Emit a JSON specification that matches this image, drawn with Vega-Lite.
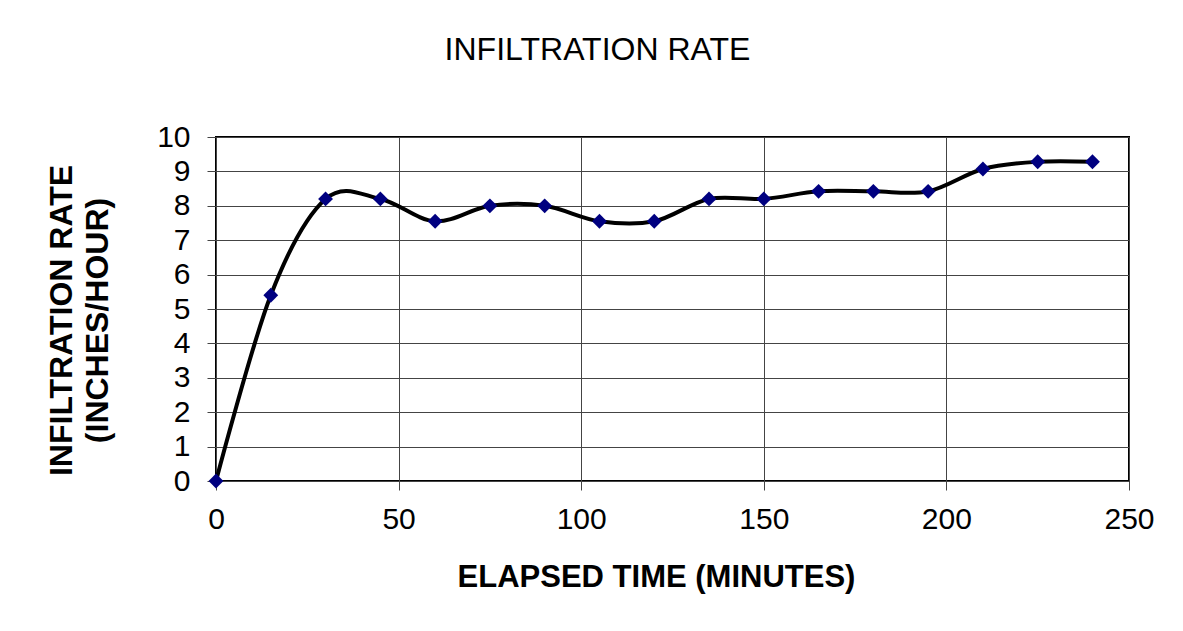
{
  "$schema": "https://vega.github.io/schema/vega-lite/v6.json",
  "autosize": "none",
  "width": 913,
  "height": 344,
  "padding": {"left": 216, "top": 137, "right": 54, "bottom": 150},
  "background": "white",
  "title": {
    "text": "INFILTRATION RATE",
    "frame": "group",
    "anchor": "middle",
    "dx": -75,
    "offset": 30,
    "baseline": "alphabetic",
    "font": "Liberation Sans",
    "fontSize": 32,
    "fontWeight": "normal",
    "color": "black"
  },
  "config": {
    "view": {"stroke": "black", "strokeWidth": 2},
    "axis": {
      "labelFont": "Liberation Sans",
      "labelFontSize": 30,
      "labelColor": "black",
      "labelFlush": false,
      "labelOverlap": false,
      "titleFont": "Liberation Sans",
      "titleFontWeight": "bold",
      "titleColor": "black",
      "gridColor": "#444444",
      "gridWidth": 1,
      "gridOpacity": 1,
      "tickColor": "#444444",
      "tickSize": 9,
      "domain": false
    }
  },
  "data": {
    "values": [
      {"t": 0, "rate": 0},
      {"t": 15, "rate": 5.4},
      {"t": 30, "rate": 8.2},
      {"t": 45, "rate": 8.2},
      {"t": 60, "rate": 7.55},
      {"t": 75, "rate": 8.0},
      {"t": 90, "rate": 8.0},
      {"t": 105, "rate": 7.55},
      {"t": 120, "rate": 7.55},
      {"t": 135, "rate": 8.2},
      {"t": 150, "rate": 8.2},
      {"t": 165, "rate": 8.42},
      {"t": 180, "rate": 8.42},
      {"t": 195, "rate": 8.42},
      {"t": 210, "rate": 9.07},
      {"t": 225, "rate": 9.28},
      {"t": 240, "rate": 9.28}
    ]
  },
  "encoding": {
    "x": {
      "field": "t",
      "type": "quantitative",
      "scale": {"domain": [0, 250], "nice": false, "zero": true},
      "axis": {
        "values": [0, 50, 100, 150, 200, 250],
        "title": "ELAPSED TIME (MINUTES)",
        "titleFontSize": 31,
        "labelPadding": 14,
        "titleX": 440,
        "titleY": 96,
        "titleBaseline": "middle"
      }
    },
    "y": {
      "field": "rate",
      "type": "quantitative",
      "scale": {"domain": [0, 10], "nice": false},
      "axis": {
        "values": [0, 1, 2, 3, 4, 5, 6, 7, 8, 9, 10],
        "title": ["INFILTRATION RATE", "(INCHES/HOUR)"],
        "titleFontSize": 32,
        "titleLineHeight": 36,
        "labelPadding": 17,
        "titleX": -155,
        "titleY": 183,
        "titleAngle": -90,
        "titleBaseline": "middle",
        "titleAlign": "center"
      }
    }
  },
  "layer": [
    {
      "mark": {"type": "line", "interpolate": "cardinal", "color": "black", "strokeWidth": 4}
    },
    {
      "mark": {"type": "point", "shape": "diamond", "filled": true, "size": 220, "color": "#000080", "opacity": 1}
    }
  ]
}
